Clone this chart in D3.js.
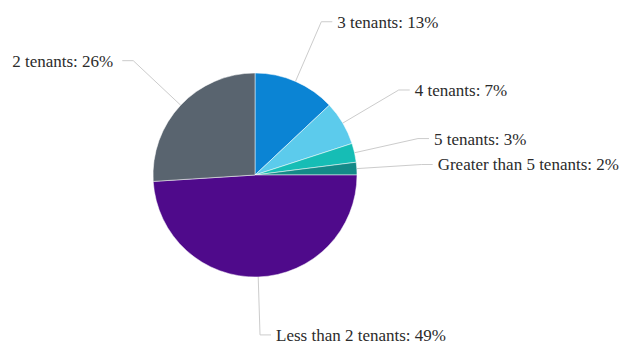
<!DOCTYPE html>
<html>
<head>
<meta charset="utf-8">
<script src="https://cdn.jsdelivr.net/npm/d3@7"></script>
<style>
  html, body { margin: 0; padding: 0; background: #fff; }
  svg { display: block; }
</style>
</head>
<body>
<svg id="chart" width="621" height="347"></svg>
<script>
// Share of properties by number of tenants
const categories = ["3 tenants", "4 tenants", "5 tenants", "Greater than 5 tenants", "Less than 2 tenants", "2 tenants"];
const shares = [13, 7, 3, 2, 49, 26];
const colors = ["#0b84d4", "#5ccbec", "#16bdb5", "#148a88", "#4f0a8b", "#59646f"];

const data = categories.map((c, i) => ({ name: c, value: shares[i], color: colors[i] }));

const width = 621, height = 347;
const cx = 255, cy = 175, radius = 102;
const elbowRadius = 167;

const svg = d3.select("#chart");
const g = svg.append("g").attr("transform", `translate(${cx},${cy})`);

const pie = d3.pie().value(d => d.value).sort(null);
const arc = d3.arc().innerRadius(0).outerRadius(radius);
const arcs = pie(data);

g.selectAll("path.slice")
  .data(arcs)
  .join("path")
  .attr("class", "slice")
  .attr("d", arc)
  .attr("fill", d => d.data.color)
  .attr("stroke", "#ffffff")
  .attr("stroke-width", 0.5);

const mid = d => (d.startAngle + d.endAngle) / 2;
const polar = (a, r) => [r * Math.sin(a), -r * Math.cos(a)];

const labels = g.selectAll("g.label")
  .data(arcs)
  .join("g")
  .attr("class", "label");

labels.each(function (d) {
  const a = mid(d);
  const side = Math.sin(a) >= -0.05 ? 1 : -1;
  // keep the bottom label inside the frame
  const r1 = Math.cos(a) < -0.95 ? elbowRadius - 7 : elbowRadius;
  const p0 = polar(a, radius);
  const p1 = polar(a, r1);
  const p2 = [p1[0] + side * 11, p1[1]];
  const gap = side > 0 ? 5 : 9;
  const sel = d3.select(this);
  sel.append("polyline")
    .attr("points", [p0, p1, p2].map(p => p.join(",")).join(" "))
    .attr("fill", "none")
    .attr("stroke", "#cccccc")
    .attr("stroke-width", 1);
  sel.append("text")
    .attr("x", p2[0] + side * gap)
    .attr("y", p2[1])
    .attr("dy", "0.35em")
    .attr("text-anchor", side > 0 ? "start" : "end")
    .attr("font-family", "'Liberation Serif', 'Times New Roman', serif")
    .attr("font-size", "17px")
    .attr("fill", "#2b2b2b")
    .text(`${d.data.name}: ${d.data.value}%`);
});
</script>
</body>
</html>
